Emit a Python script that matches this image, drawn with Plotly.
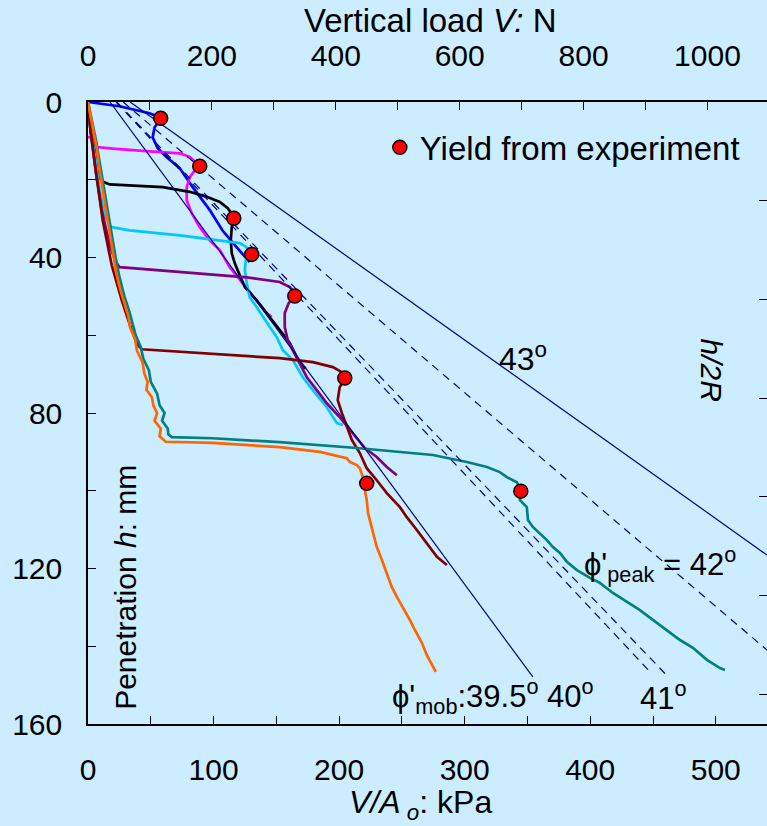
import math
import plotly.graph_objects as go

# ---------------------------------------------------------------
# Spudcan penetration tests: bearing pressure vs penetration depth
# ---------------------------------------------------------------
BG = "#CCECFF"
FONT = "Liberation Sans, Arial, sans-serif"

R_MM = 25.4                              # spudcan radius, mm
A_O = math.pi * (R_MM / 1000.0) ** 2     # bearing area, m^2
X_MAX = 540.8                            # kPa shown on the bottom axis
Y_MAX = 160.0                            # mm shown on the left axis

# --- test curves (V/A_o in kPa, penetration h in mm) -------------
blue_kpa = [0, 25, 49, 58.7, 53, 51.5, 55.5, 62.7, 73, 83.4, 97, 107, 118.5, 128.8]
blue_mm = [0, 1.1, 2.9, 4.2, 6.5, 9.1, 11.9, 14.2, 17, 21.9, 27.8, 33, 37.4, 41.2]

magenta_kpa = [-1.3, 3.7, 6.7, 19.7, 49.2, 73.1, 81, 85, 89, 85, 81, 78.6, 78.6, 82.6,
               89, 97, 105, 112.9, 123.3, 134.4, 142.3, 146.4]
magenta_mm = [9.0, 9.2, 11.6, 12.0, 12.7, 13.2, 14.1, 15.4, 16.5, 17.6, 19.4, 21.9, 25.3, 28.6,
              32.2, 35.6, 38.1, 42.5, 46.6, 51.0, 54.3, 55.3]

black_kpa = [0, 2, 5.3, 7.7, 9.3, 12.5, 17.3, 33.2, 59.5, 81, 94.6, 105, 111.3, 115.3, 116.1,
             114.5, 113.7, 114.5, 116.9, 120.9, 124.9, 134.4, 142.3, 152.7, 160.7, 166.3,
             171.1, 173.5]
black_mm = [0, 7.3, 12.4, 17.6, 19.6, 20.6, 21.2, 21.4, 21.9, 23.1, 24.4, 25.7, 27.3, 29.1, 29.9,
            32.2, 35.6, 38.9, 41.5, 44.6, 47.6, 51.0, 54.3, 58.7, 62.0, 65.6, 68.2, 68.5]

cyan_kpa = [0, 2, 6.1, 9.3, 13.3, 17.3, 18.9, 33.2, 73.1, 105, 120.9, 126.5, 130.4, 125.7,
            124.9, 126.5, 128.8, 134.4, 139.2, 144.8, 150.4, 155.1, 163.1, 171.1, 179.1,
            190.2, 198.2, 203]
cyan_mm = [0, 7.3, 15, 22.7, 29.1, 31.7, 32.2, 33.0, 34.3, 35.6, 36.3, 37.4, 39.2, 40.7,
           43.3, 46.6, 50.2, 52.8, 55.3, 57.9, 60.5, 63.8, 66.4, 70.8, 74.1, 78.5, 82.6, 83.1]

purple_kpa = [0, 2, 6.1, 10.9, 17.3, 22.1, 25.3, 73.1, 126.5, 152.7, 160.7, 163.9, 165.5,
              159.9, 156.7, 156.7, 159.1, 163.1, 168.7, 174.3, 182.2, 190.2, 200.6, 210.9,
              220.5, 230, 238, 246]
purple_mm = [0, 7.3, 17.6, 27.8, 36.8, 41.2, 42.5, 43.8, 45.1, 46.3, 47.6, 48.9, 49.9,
             51.7, 54.3, 57.9, 61.3, 63.8, 67.2, 70.8, 74.1, 77.5, 81.1, 85.2,
             89.0, 91.3, 93.9, 96.0]

darkred_kpa = [0, 2, 6.1, 11.7, 18.9, 26.9, 34.8, 39.6, 42.8, 89, 152.7, 179.1, 195, 202.2,
               205.3, 200.5, 198.9, 202.2, 206.2, 210.1, 216.5, 222, 230, 238, 248.4, 253.9,
               261.9, 269.9, 277.9, 285.8]
darkred_mm = [0, 7.3, 17.6, 30.4, 42, 51, 58.7, 62.5, 63.6, 64.6, 65.9, 66.9, 68.2, 69.5,
              70.8, 73.3, 76.7, 80.0, 83.6, 86.9, 90.3, 94.2, 97.3, 100.6, 104.2, 106.8,
              110.1, 113.4, 117.0, 119.1]

teal_kpa = [0, 3.5, 6.5, 9, 11.5, 14.5, 16.5, 19.5, 22, 25, 29, 33, 35.5, 38, 42, 44, 48.5,
            50, 55, 57, 61, 59, 63.5, 64, 66.7, 99.4, 152.7, 214.1, 274.7, 301.7, 317.7, 328,
            333.6, 341.6, 344.8, 344, 349.5, 350.4, 354.3, 359.9, 365.5, 370.3, 375.9, 381.4,
            389.4, 399.8, 407.7, 418.1, 429.1, 439.6, 449.9, 461.1, 471.5, 481.8, 493, 503.3,
            507.3]
teal_mm = [0, 5, 10, 15, 20, 25, 30, 35, 40, 45, 50, 54, 57, 60, 63, 66, 69,
           72, 75, 78, 80, 82, 84, 85.5, 86.2, 86.5, 87.5, 89.0, 90.8, 92.6, 93.9, 95.2,
           96.5, 97.8, 100.1, 102.4, 104.2, 107.5, 109.3, 110.9, 112.7, 114.5, 116.0, 118.3,
           120.4, 122.4, 123.7, 126.3, 128.6, 130.7, 133.2, 135.8, 138.4, 140.4, 143.5, 145.6,
           146.1]

orange_kpa = [0, 2.5, 5, 7, 8.5, 10.5, 12, 14.5, 16, 18.5, 20, 22.5, 25.5, 29, 32, 33.5,
              37.5, 39, 43.5, 45, 47.5, 46.5, 51, 52, 55, 53, 58, 57, 61.9, 99.4, 152.7,
              184.6, 195, 206.1, 208.5, 214.1, 216.5, 218.9, 220.5, 222, 223, 226.1, 230,
              234.1, 238, 242, 246, 250.8, 256.3, 260.3, 265.9, 269.9, 273.9, 277]
orange_mm = [0, 4, 8, 12, 16, 20, 24, 28, 32, 36, 40, 44, 48, 52, 55, 58,
             61, 64, 67, 70, 72, 74, 76, 78, 80, 82, 84, 86, 87.4, 87.7, 88.8,
             90.0, 90.8, 91.6, 92.6, 93.4, 94.2, 96.5, 99.8, 102.4, 105.7, 109.3, 114.5,
             117.8, 121.2, 124.8, 127.3, 129.9, 133.2, 135.8, 139.1, 142.3, 144.8, 146.6]

yield_kpa = [57.9, 89, 116.1, 130.4, 164.7, 204.5, 222, 344.7]
yield_mm = [4.2, 16.5, 29.9, 39.2, 49.9, 71.0, 98.1, 100.1]

# --- bearing-capacity lines for mobilised friction angles ---------
phi_values = [39.5, 40, 41, 42, 43]
line_q_top = [17.5, 22.3, 22.9, 28.0, 33.5]      # kPa at h = 0
line_q_end = [354.3, 446.2, 459.5, 610.0, 730.0]  # kPa at end of line
line_h_end = [147.9, 146.1, 147.0, 160.0, 160.0]  # mm at end of line
line_dash = ["solid", "8px,6px", "8px,6px", "8px,6px", "solid"]

curves = [
    (blue_kpa, blue_mm, "#0000FF"),
    (magenta_kpa, magenta_mm, "#FF00FF"),
    (black_kpa, black_mm, "#000000"),
    (cyan_kpa, cyan_mm, "#00C8FF"),
    (purple_kpa, purple_mm, "#800080"),
    (darkred_kpa, darkred_mm, "#800000"),
    (teal_kpa, teal_mm, "#008080"),
    (orange_kpa, orange_mm, "#FF6600"),
]

fig = go.Figure()

for xs, ys, col in curves:
    fig.add_trace(go.Scatter(x=xs, y=ys, mode="lines",
                             line=dict(color=col, width=2.7),
                             showlegend=False, hoverinfo="skip"))

for phi, q0, q1, h1, dash in zip(phi_values, line_q_top, line_q_end, line_h_end, line_dash):
    fig.add_trace(go.Scatter(x=[q0, q1], y=[0, h1], mode="lines",
                             line=dict(color="#000080", width=1.2, dash=dash),
                             name=f"{phi}", showlegend=False, hoverinfo="skip"))

fig.add_trace(go.Scatter(x=yield_kpa, y=yield_mm, mode="markers",
                         marker=dict(size=14, color="#FF0000",
                                     line=dict(color="black", width=1.5)),
                         name="Yield from experiment", showlegend=True))

# secondary axes: load in N (top) and normalised depth h/2R (right)
fig.add_trace(go.Scatter(x=[0], y=[0], xaxis="x2", yaxis="y2", mode="markers",
                         marker=dict(opacity=0), showlegend=False, hoverinfo="skip"))

tickfont = dict(family=FONT, size=30, color="black")
common = dict(showgrid=False, zeroline=False, showline=True, linecolor="black",
              linewidth=1.5, ticks="inside", tickcolor="black", tickwidth=1.2,
              ticklen=8, tickfont=tickfont)

fig.update_layout(
    width=767, height=826,
    margin=dict(l=88, r=0, t=102, b=102),
    paper_bgcolor=BG, plot_bgcolor=BG,
    font=dict(family=FONT, size=30, color="black"),
    xaxis=dict(range=[0, X_MAX], dtick=100, tick0=0,
               minor=dict(dtick=50, ticks="inside", ticklen=8, tickcolor="black"),
               ticklabelstandoff=18, **common),
    xaxis2=dict(range=[0, X_MAX * A_O * 1000], overlaying="x", side="top", anchor="y",
                dtick=200, tick0=0,
                minor=dict(dtick=100, ticks="inside", ticklen=8, tickcolor="black"),
                ticklabelstandoff=22, **common),
    yaxis=dict(range=[Y_MAX, 0], dtick=40, tick0=0,
               minor=dict(dtick=20, ticks="inside", ticklen=8, tickcolor="black"),
               ticklabelstandoff=18, **common),
    yaxis2=dict(range=[Y_MAX / (2 * R_MM), 0], overlaying="y", side="right", anchor="x",
                dtick=0.5, tick0=0, showticklabels=False, showgrid=False, zeroline=False,
                showline=False, ticks="inside", ticklen=8, tickcolor="black", tickwidth=1.2),
    legend=dict(x=0.4298, y=0.927, xanchor="left", yanchor="middle",
                bgcolor="rgba(0,0,0,0)", font=dict(family=FONT, size=33, color="black")),
)

ann = [
    dict(text="Vertical load <i>V:</i> N", x=0.504, y=1.131, textangle=0, size=33),
    dict(text="<i>V/A</i><sub><i> o</i></sub>: kPa", x=0.49, y=-0.129, textangle=0, size=32),
    dict(text="Penetration <i>h</i>: mm", x=0.054, y=0.22, textangle=-90, size=30),
    dict(text="<i>h/2R</i>", x=0.919, y=0.570, textangle=90, size=30),
    dict(text="43<sup>o</sup>", x=0.641, y=0.59, textangle=0, size=32),
    dict(text="ϕ'<sub>peak</sub> = 42<sup>o</sup>", x=0.842, y=0.256, textangle=0, size=31),
    dict(text="ϕ'<sub>mob</sub>:39.5<sup>o</sup> 40<sup>o</sup>", x=0.597, y=0.045,
         textangle=0, size=31),
    dict(text="41<sup>o</sup>", x=0.848, y=0.045, textangle=0, size=31),
]
for a in ann:
    fig.add_annotation(text=a["text"], x=a["x"], y=a["y"], xref="paper", yref="paper",
                       showarrow=False, textangle=a["textangle"],
                       font=dict(family=FONT, size=a["size"], color="black"),
                       xanchor="center", yanchor="middle")

fig.write_html("out.html")
